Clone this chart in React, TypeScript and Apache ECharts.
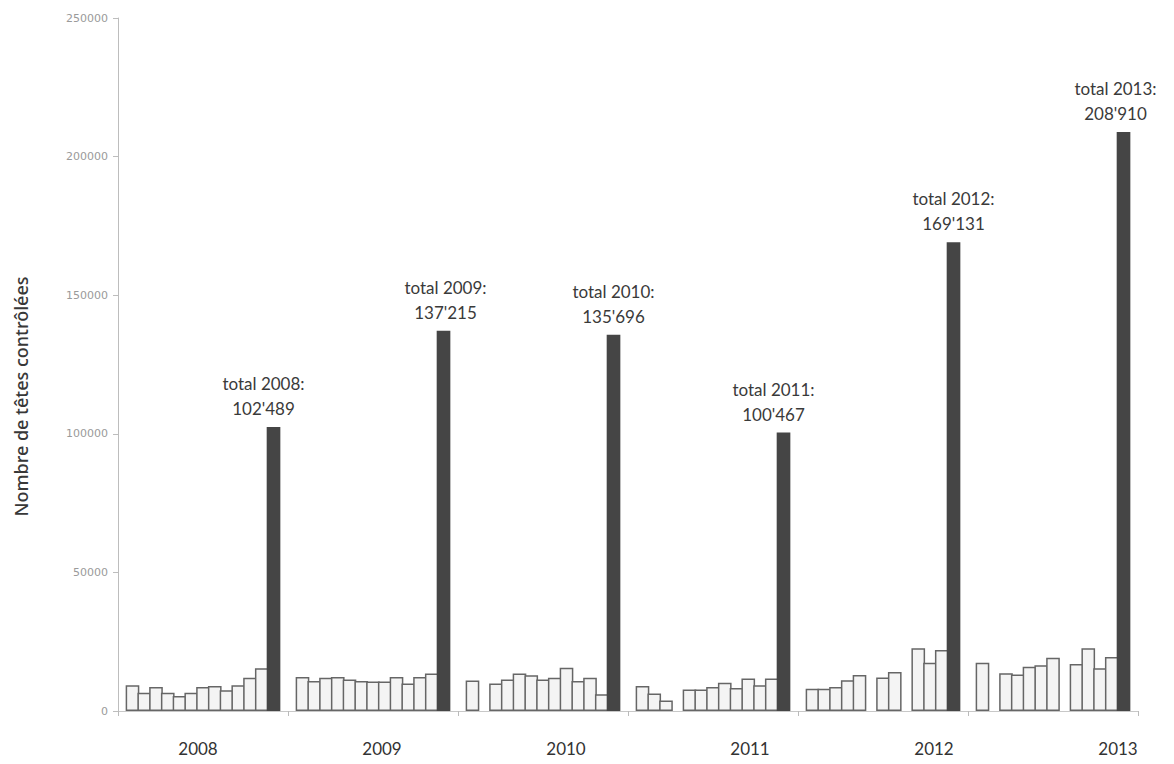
import React, { useEffect, useRef } from "react";
import * as echarts from "echarts";

const years = ["2008", "2009", "2010", "2011", "2012", "2013"];
const yTicks = [0, 50000, 100000, 150000, 200000, 250000];

// monthly controlled heads (null = bar not visible in the picture)
const m2008 = [9300, 6600, 8700, 6600, 5400, 6600, 8700, 9000, 7500, 9300, 12000, 15400];
const m2009 = [12300, 10800, 12000, 12300, 11400, 10800, 10600, 10600, 12300, 9900, 12300, 13500];
const m2010 = [11000, null, 9900, 11400, 13500, 12900, 11400, 12000, 15600, 10800, 12000, 6000];
const m2011 = [9000, 6300, 3800, null, 7800, 7800, 8700, 10200, 8300, 11700, 9300, 11700];
const m2012 = [8000, 8000, 8700, 11100, 13000, null, 12100, 14100, null, 22600, 17400, 22000];
const m2013 = [17400, null, 13600, 13200, 16000, 16500, 19200, null, 17000, 22600, 15400, 19500];
const totals = [102489, 137215, 135696, 100467, 169131, 208910];

const monthly = [m2008, m2009, m2010, m2011, m2012, m2013];
const labelShift = [-10, 2, 0, -10, 0, -8];

const fmt = (v: number) => String(v).replace(/\B(?=(\d{3})+(?!\d))/g, "'");

export default function App() {
  const ref = useRef<HTMLDivElement>(null);
  useEffect(() => {
    document.body.style.margin = "0";
    const chart = echarts.init(ref.current!, null, { renderer: "svg" });
    const common = { type: "bar", xAxisIndex: 0, yAxisIndex: 0, barGap: "-14%", barCategoryGap: "9%" };
    const monthSeries = Array.from({ length: 12 }, (_, mi) => ({
      ...common,
      name: "m" + (mi + 1),
      data: monthly.map((arr) => arr[mi]),
      itemStyle: { color: "#f4f4f4", borderColor: "#666666", borderWidth: 1.5 },
    }));
    const totalSeries = {
      ...common,
      name: "total",
      data: totals.map((v, i) => ({ value: v, label: { offset: [labelShift[i], 0] } })),
      itemStyle: { color: "#454545" },
      label: {
        show: true,
        position: "top",
        distance: 6,
        formatter: (p: any) => "total " + years[p.dataIndex] + ":\n" + fmt(p.value),
        fontFamily: "Lato",
        fontSize: 17,
        lineHeight: 25,
        color: "#3a3a3a",
      },
    };
    chart.setOption({
      animation: false,
      backgroundColor: "#ffffff",
      grid: [
        { left: 118, right: 36, top: 18, bottom: 53 },
        { left: 198, right: 56, top: 700, bottom: 53 },
      ],
      xAxis: [
        {
          type: "category",
          gridIndex: 0,
          data: years,
          axisLine: { lineStyle: { color: "#c8c8c8", width: 1 } },
          axisTick: { show: true, length: 5, lineStyle: { color: "#bbbbbb" } },
          axisLabel: { show: false },
        },
        {
          type: "category",
          gridIndex: 1,
          data: years,
          boundaryGap: false,
          axisLine: { show: false },
          axisTick: { show: false },
          axisLabel: { show: true, margin: 29, fontFamily: "Lato", fontSize: 17, color: "#333333" },
        },
      ],
      yAxis: [
        {
          type: "value",
          gridIndex: 0,
          min: 0,
          max: 250000,
          interval: 50000,
          axisLine: { show: true, lineStyle: { color: "#bdbdbd" } },
          axisTick: { show: true, length: 5, lineStyle: { color: "#bdbdbd" } },
          splitLine: { show: false },
          axisLabel: {
            margin: 10,
            fontFamily: "DejaVu Sans",
            fontSize: 11,
            color: "#9a9a9a",
            formatter: (v: number) => (yTicks.includes(v) ? String(v) : ""),
          },
          name: "Nombre de têtes contrôlées",
          nameLocation: "middle",
          nameGap: 88,
          nameTextStyle: {
            fontFamily: "Noto Sans",
            fontSize: 18,
            fontWeight: 500,
            color: "#383838",
            padding: [0, 64, 0, 0],
          },
        },
        {
          type: "value",
          gridIndex: 1,
          show: false,
        },
      ],
      series: [...monthSeries, totalSeries],
    });
    return () => chart.dispose();
  }, []);
  return (
    <div
      ref={ref}
      style={{ position: "absolute", left: 0, top: 0, width: 1174, height: 764 }}
    />
  );
}
